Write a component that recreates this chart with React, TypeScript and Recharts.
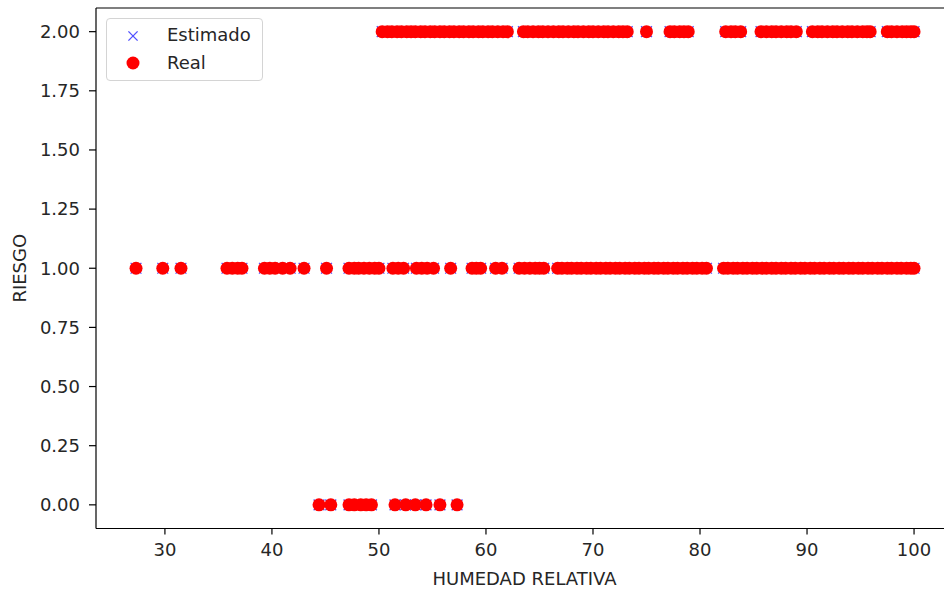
import { ScatterChart, Scatter, XAxis, YAxis, Legend, ReferenceLine } from 'recharts';

// humidity values (x), one list per risk level
const riskTwoX = [
    50.3, 50.8, 51.2, 51.7, 52.1, 52.6, 53.0, 53.4, 53.9, 54.3, 54.8, 55.2, 55.7, 56.1, 56.6, 57.0, 57.5, 57.9,
    58.4, 58.8, 59.3, 59.7, 60.2, 60.6, 61.1, 61.6, 62.0,
    63.5, 63.9, 64.4, 64.9, 65.3, 65.8, 66.3, 66.8, 67.2, 67.7, 68.2, 68.6, 69.1, 69.6, 70.0, 70.5, 71.0, 71.4,
    71.9, 72.4, 72.8, 73.2,
    75.0,
    77.2, 77.6, 78.1, 78.5, 78.9,
    82.4, 82.9, 83.3, 83.8,
    85.7, 86.2, 86.7, 87.1, 87.6, 88.1, 88.5, 89.0,
    90.5, 91.0, 91.4, 91.9, 92.4, 92.8, 93.3, 93.8, 94.2, 94.7, 95.2, 95.6, 95.9,
    97.5, 97.9, 98.4, 98.9, 99.3, 99.7, 100.0,
];
const riskOneX = [
    27.3, 29.8, 31.5,
    35.8, 36.3, 36.8, 37.2,
    39.3, 39.8, 40.3, 41.0, 41.7, 43.0,
    45.1,
    47.2, 47.7, 48.1, 48.6, 49.1, 49.6, 50.0,
    51.3, 51.8, 52.3,
    53.5, 54.0, 54.5, 55.1,
    56.7,
    58.7, 59.1, 59.5,
    60.9, 61.5,
    63.1, 63.6, 64.1, 64.6, 65.0, 65.4,
    66.7, 67.1, 67.6, 68.0, 68.5, 68.9, 69.4, 69.8, 70.3, 70.7, 71.2, 71.6, 72.1, 72.5, 73.0, 73.4, 73.9, 74.3,
    74.8, 75.2, 75.7, 76.1, 76.6, 77.0, 77.5, 77.9, 78.4, 78.8, 79.3, 79.7, 80.2, 80.6,
    82.2, 82.6, 83.1, 83.5, 84.0, 84.4, 84.9, 85.3, 85.8, 86.2, 86.7, 87.1, 87.6, 88.0, 88.5, 88.9, 89.4, 89.8,
    90.3, 90.7, 91.2, 91.6, 92.1, 92.5, 93.0, 93.4, 93.9, 94.3, 94.8, 95.2, 95.7, 96.1, 96.6, 97.0, 97.5, 97.9,
    98.4, 98.8, 99.3, 99.7, 100.0,
];
const riskZeroX = [44.4, 45.5, 47.2, 47.7, 48.3, 48.8, 49.3, 51.5, 52.5, 53.4, 54.4, 55.7, 57.3];

const xTicks = [30, 40, 50, 60, 70, 80, 90, 100];
const yTicks = [0, 0.25, 0.5, 0.75, 1, 1.25, 1.5, 1.75, 2];
const X_DOMAIN: [number, number] = [23.56, 103.64];
const Y_DOMAIN: [number, number] = [-0.1, 2.1];

const realData = [
    ...riskZeroX.map(x => ({ x, y: 0 })),
    ...riskOneX.map(x => ({ x, y: 1 })),
    ...riskTwoX.map(x => ({ x, y: 2 })),
];
// the estimate sits exactly under every real point in the picture
const estimatedData = realData.map(p => ({ ...p }));

const FONT = 'DejaVu Sans, sans-serif';
const TEXT = '#262626';
const BLUE = '#5050ff';
const RED = '#ff0000';

const Cross = ({ cx, cy, d = 5.4 }: any) => (
    <g stroke={BLUE} strokeWidth={1.3}>
        <line x1={cx - d} y1={cy - d} x2={cx + d} y2={cy + d} />
        <line x1={cx - d} y1={cy + d} x2={cx + d} y2={cy - d} />
    </g>
);

const Dot = ({ cx, cy }: any) => <circle cx={cx} cy={cy} r={6.5} fill={RED} />;

const LegendBox = () => (
    <div style={{ width: 157, height: 63, boxSizing: 'border-box', border: '1px solid #d4d4d4', borderRadius: 4, background: 'rgba(255,255,255,0.85)' }}>
        <svg width={155} height={61} style={{ display: 'block' }}>
            <Cross cx={26} cy={17} d={4.6} />
            <text x={60} y={22} fontSize={18} fontFamily={FONT} fill={TEXT}>Estimado</text>
            <Dot cx={26} cy={44} />
            <text x={60} y={50} fontSize={18} fontFamily={FONT} fill={TEXT}>Real</text>
        </svg>
    </div>
);

export default function App() {
    const tick = { fontSize: 18, fontFamily: FONT, fill: TEXT };
    return (
        <div style={{ position: 'fixed', left: 0, top: 0, width: 944, height: 592, overflow: 'hidden', background: '#fff' }}>
            <ScatterChart width={970} height={592} margin={{ top: 8, right: 17, bottom: 0, left: 0 }}>
                <XAxis
                    type="number"
                    dataKey="x"
                    domain={X_DOMAIN}
                    ticks={xTicks}
                    allowDataOverflow
                    height={63.5}
                    tick={tick}
                    tickSize={6}
                    tickMargin={9}
                    axisLine={{ stroke: '#000', strokeWidth: 1.2 }}
                    tickLine={{ stroke: '#000', strokeWidth: 1.2 }}
                    label={{
                        content: ({ viewBox }: any) => (
                            <text x={viewBox.x + viewBox.width / 2} y={585} textAnchor="middle" fontSize={18} fontFamily={FONT} fill={TEXT}>
                                HUMEDAD RELATIVA
                            </text>
                        ),
                    }}
                />
                <YAxis
                    type="number"
                    dataKey="y"
                    domain={Y_DOMAIN}
                    ticks={yTicks}
                    allowDataOverflow
                    width={96}
                    tick={tick}
                    tickFormatter={(v: number) => v.toFixed(2)}
                    tickSize={7}
                    tickMargin={9}
                    axisLine={{ stroke: '#000', strokeWidth: 1.2 }}
                    tickLine={{ stroke: '#000', strokeWidth: 1.2 }}
                    label={{
                        content: ({ viewBox }: any) => {
                            const cy = viewBox.y + viewBox.height / 2;
                            return (
                                <text x={19} y={cy} transform={`rotate(-90, 19, ${cy})`} textAnchor="middle" dominantBaseline="central" fontSize={18} fontFamily={FONT} fill={TEXT}>
                                    RIESGO
                                </text>
                            );
                        },
                    }}
                />
                <ReferenceLine y={Y_DOMAIN[1]} stroke="#000" strokeWidth={1.2} />
                <ReferenceLine x={X_DOMAIN[1]} stroke="#000" strokeWidth={1.2} />
                <Legend
                    layout="vertical"
                    align="center"
                    verticalAlign="middle"
                    width={157}
                    height={63}
                    wrapperStyle={{ top: 18, left: 106 }}
                    content={() => <LegendBox />}
                />
                <Scatter name="Estimado" data={estimatedData} shape={<Cross />} isAnimationActive={false} />
                <Scatter name="Real" data={realData} shape={<Dot />} isAnimationActive={false} />
            </ScatterChart>
        </div>
    );
}
